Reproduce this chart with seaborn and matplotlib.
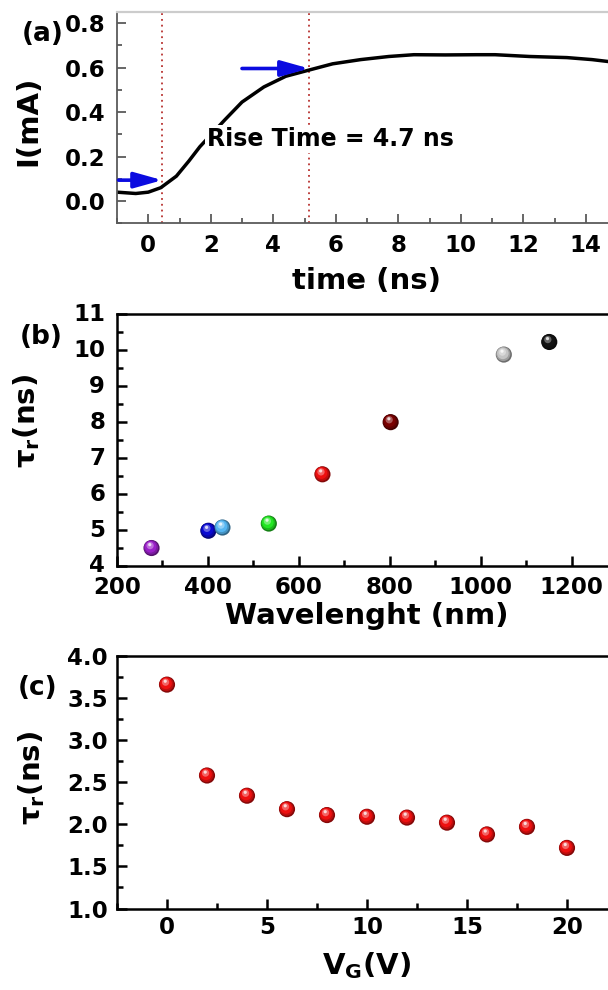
import numpy as np
import pandas as pd
import seaborn as sns
import matplotlib
matplotlib.use("Agg")
import matplotlib.pyplot as plt
from matplotlib.path import Path
from matplotlib.markers import MarkerStyle
from matplotlib.ticker import MultipleLocator
from matplotlib.colors import to_rgb

# ---------------- data ----------------
# (a) photocurrent transient
time_ns = [-1.0, -0.4, 0.0, 0.4, 0.9, 1.3, 1.65, 2.45, 3.0, 3.7, 4.4, 5.2,
           5.9, 6.8, 7.7, 8.5, 9.5, 10.5, 11.1, 12.2, 13.4, 14.2, 14.8]
current_mA = [0.040, 0.034, 0.040, 0.060, 0.112, 0.180, 0.244, 0.365, 0.445,
              0.513, 0.561, 0.591, 0.617, 0.636, 0.650, 0.658, 0.657, 0.658,
              0.658, 0.650, 0.645, 0.636, 0.626]
t_10 = 0.45
rise_time = 4.7
t_90 = t_10 + rise_time
level_10 = 0.094
level_90 = 0.596
arrow_start_10 = -0.95
arrow_start_90 = 3.0

# (b) rise time vs excitation wavelength
wavelength_nm = [276, 401, 432, 534, 652, 802, 1051, 1151]
tau_wavelength = [4.50, 4.98, 5.07, 5.18, 6.55, 8.00, 9.88, 10.23]
ball_colors = ["#9a20c8", "#0a0ad2", "#55b6f2", "#22e622",
               "#ee1010", "#7a0000", "#c4c4c4", "#141414"]

# (c) rise time vs gate voltage
gate_V = [0, 2, 4, 6, 8, 10, 12, 14, 16, 18, 20]
tau_gate = [3.66, 2.58, 2.34, 2.18, 2.11, 2.09, 2.08, 2.02, 1.88, 1.97, 1.72]

# ---------------- style ----------------
sns.set_style("ticks", {"xtick.direction": "in", "ytick.direction": "in"})
plt.rcParams["font.family"] = ["DejaVu Sans"]
plt.rcParams["font.weight"] = "bold"
plt.rcParams["axes.labelweight"] = "bold"
plt.rcParams["mathtext.fontset"] = "dejavusans"
plt.rcParams["text.color"] = "black"
plt.rcParams["axes.labelcolor"] = "black"
plt.rcParams["xtick.labelcolor"] = "black"
plt.rcParams["ytick.labelcolor"] = "black"

TICK_FS = 16.5
LABEL_FS = 21
PANEL_FS = 19


def ball_marker(cx, cy, r):
    """Circle of radius r (base ball radius = 1) centred at (cx, cy)."""
    circ = Path.circle((cx, cy), r)
    verts = np.vstack([[[-1.0, -1.0], [1.0, 1.0]], circ.vertices])
    codes = np.concatenate([[Path.MOVETO, Path.MOVETO], circ.codes])
    return MarkerStyle(Path(verts, codes))


# layers giving each marker a glossy sphere look
BALL_LAYERS = [
    (0.00, 0.00, 1.00, "dark", 0.55),
    (-0.07, 0.07, 0.88, "dark", 0.80),
    (-0.12, 0.15, 0.72, "dark", 1.00),
    (-0.18, 0.30, 0.45, "light", 0.35),
    (-0.22, 0.42, 0.20, "light", 0.85),
]


def shade(color, mode, amt):
    rgb = np.array(to_rgb(color))
    if mode == "dark":
        return tuple(rgb * amt)
    return tuple(rgb + (1 - rgb) * amt)


def draw_balls(ax, data, x, y, hue, palette, size=135):
    for cx, cy, r, mode, amt in BALL_LAYERS:
        pal = {k: shade(v, mode, amt) for k, v in palette.items()}
        sns.scatterplot(data=data, x=x, y=y, hue=hue, palette=pal,
                        marker=ball_marker(cx, cy, r), s=size, linewidth=0,
                        edgecolor="none", legend=False, ax=ax, zorder=3)


def style_axes(ax, spine_color, spine_lw, maj_len, min_len, xpad, ypad):
    for side in ["left", "bottom", "right", "top"]:
        ax.spines[side].set_color(spine_color)
        ax.spines[side].set_linewidth(spine_lw)
    ax.tick_params(which="both", direction="in", color=spine_color,
                   width=spine_lw, labelsize=TICK_FS, labelcolor="black",
                   top=False, right=False)
    ax.tick_params(which="major", length=maj_len)
    ax.tick_params(which="minor", length=min_len)
    ax.tick_params(axis="x", pad=xpad)
    ax.tick_params(axis="y", pad=ypad)
    for lab in ax.get_xticklabels() + ax.get_yticklabels():
        lab.set_fontweight("bold")


W, H = 608, 990
fig = plt.figure(figsize=(W / 100, H / 100), dpi=100)

ax_left = 117 / W
ax_width = 500 / W


def add_axes(top_px, bottom_px):
    return fig.add_axes([ax_left, 1 - bottom_px / H, ax_width,
                         (bottom_px - top_px) / H])


ax_a = add_axes(12, 223.3)
ax_b = add_axes(314.3, 566)
ax_c = add_axes(656, 908.5)

# ---------------- (a) ----------------
df_a = pd.DataFrame({"time": time_ns, "current": current_mA})
sns.lineplot(data=df_a, x="time", y="current", color="black", lw=2.5,
             ax=ax_a, zorder=2)
for tv in (t_10, t_90):
    ax_a.axvline(tv, color="#b8312f", lw=1.3, ls=(0, (1, 2.2)), zorder=1)
arrow_kw = dict(arrowstyle="-|>,head_length=1.0,head_width=0.28",
                color="#0b0be0", lw=2.6, mutation_scale=17,
                shrinkA=0, shrinkB=0)
ax_a.annotate("", xy=(t_10, level_10), xytext=(arrow_start_10, level_10),
              arrowprops=arrow_kw, zorder=4)
ax_a.annotate("", xy=(t_90, level_90), xytext=(arrow_start_90, level_90),
              arrowprops=arrow_kw, zorder=4)
ax_a.text(1.87, 0.279, f"Rise Time = {rise_time} ns", fontsize=17,
          fontweight="bold", ha="left", va="center", zorder=5,
          bbox=dict(facecolor="white", edgecolor="none", pad=1.5))
ax_a.set_xlim(-1, 15)
ax_a.set_ylim(-0.1, 0.85)
ax_a.xaxis.set_major_locator(MultipleLocator(2))
ax_a.xaxis.set_minor_locator(MultipleLocator(1))
ax_a.yaxis.set_major_locator(MultipleLocator(0.2))
ax_a.yaxis.set_minor_locator(MultipleLocator(0.1))
ax_a.yaxis.set_major_formatter(plt.FormatStrFormatter("%.1f"))
ax_a.set_xlabel("time (ns)", fontsize=LABEL_FS, fontweight="bold")
ax_a.set_ylabel("I(mA)", fontsize=LABEL_FS, fontweight="bold")
style_axes(ax_a, "#5a5a5a", 1.3, 6.5, 3.6, 8, 8.5)
ax_a.spines["top"].set_color("#cccccc")
ax_a.spines["top"].set_linewidth(1.6)

# ---------------- (b) ----------------
wl_keys = [f"{w} nm" for w in wavelength_nm]
df_b = pd.DataFrame({"wavelength": wavelength_nm, "tau": tau_wavelength,
                     "source": wl_keys})
draw_balls(ax_b, df_b, "wavelength", "tau", "source",
           dict(zip(wl_keys, ball_colors)))
ax_b.set_xlim(200, 1300)
ax_b.set_ylim(4, 11)
ax_b.xaxis.set_major_locator(MultipleLocator(200))
ax_b.xaxis.set_minor_locator(MultipleLocator(100))
ax_b.yaxis.set_major_locator(MultipleLocator(1))
ax_b.yaxis.set_minor_locator(MultipleLocator(0.5))
ax_b.set_xlabel("Wavelenght (nm)", fontsize=LABEL_FS, fontweight="bold")
ax_b.set_ylabel(r"$\mathrm{\tau}_{\mathbf{r}}$(ns)", fontsize=LABEL_FS,
                fontweight="bold")
style_axes(ax_b, "black", 1.8, 7, 4.3, 7.5, 8.5)
for lab in ax_b.get_yticklabels():
    lab.set_va("center")

# ---------------- (c) ----------------
df_c = pd.DataFrame({"vg": gate_V, "tau": tau_gate, "tone": "red"})
draw_balls(ax_c, df_c, "vg", "tau", "tone", {"red": "#ee1010"})
ax_c.set_xlim(-2.5, 22.5)
ax_c.set_ylim(1.0, 4.0)
ax_c.xaxis.set_major_locator(MultipleLocator(5))
ax_c.xaxis.set_minor_locator(MultipleLocator(2.5))
ax_c.yaxis.set_major_locator(MultipleLocator(0.5))
ax_c.yaxis.set_minor_locator(MultipleLocator(0.25))
ax_c.yaxis.set_major_formatter(plt.FormatStrFormatter("%.1f"))
ax_c.set_xlabel(r"V$_{\mathbf{G}}$(V)", fontsize=LABEL_FS, fontweight="bold")
ax_c.set_ylabel(r"$\mathrm{\tau}_{\mathbf{r}}$(ns)", fontsize=LABEL_FS,
                fontweight="bold")
style_axes(ax_c, "black", 1.8, 7, 4.3, 5.5, 6.5)

# ---------------- label placement ----------------
for ax, ylab_xy, xlab_y in [(ax_a, (-0.178, 0.484), -0.273),
                            (ax_b, (-0.18, 0.575), -0.198),
                            (ax_c, (-0.17, 0.517), -0.228)]:
    ax.yaxis.label.set_va("center")
    ax.yaxis.set_label_coords(*ylab_xy)
    ax.xaxis.label.set_va("center")
    ax.xaxis.set_label_coords(0.5, xlab_y)

for letter, x_px, y_px in [("(a)", 22, 34), ("(b)", 20, 337), ("(c)", 18, 688)]:
    fig.text(x_px / W, 1 - y_px / H, letter, fontsize=PANEL_FS,
             fontweight="bold", ha="left", va="center")

fig.savefig("out.png", dpi=100)
